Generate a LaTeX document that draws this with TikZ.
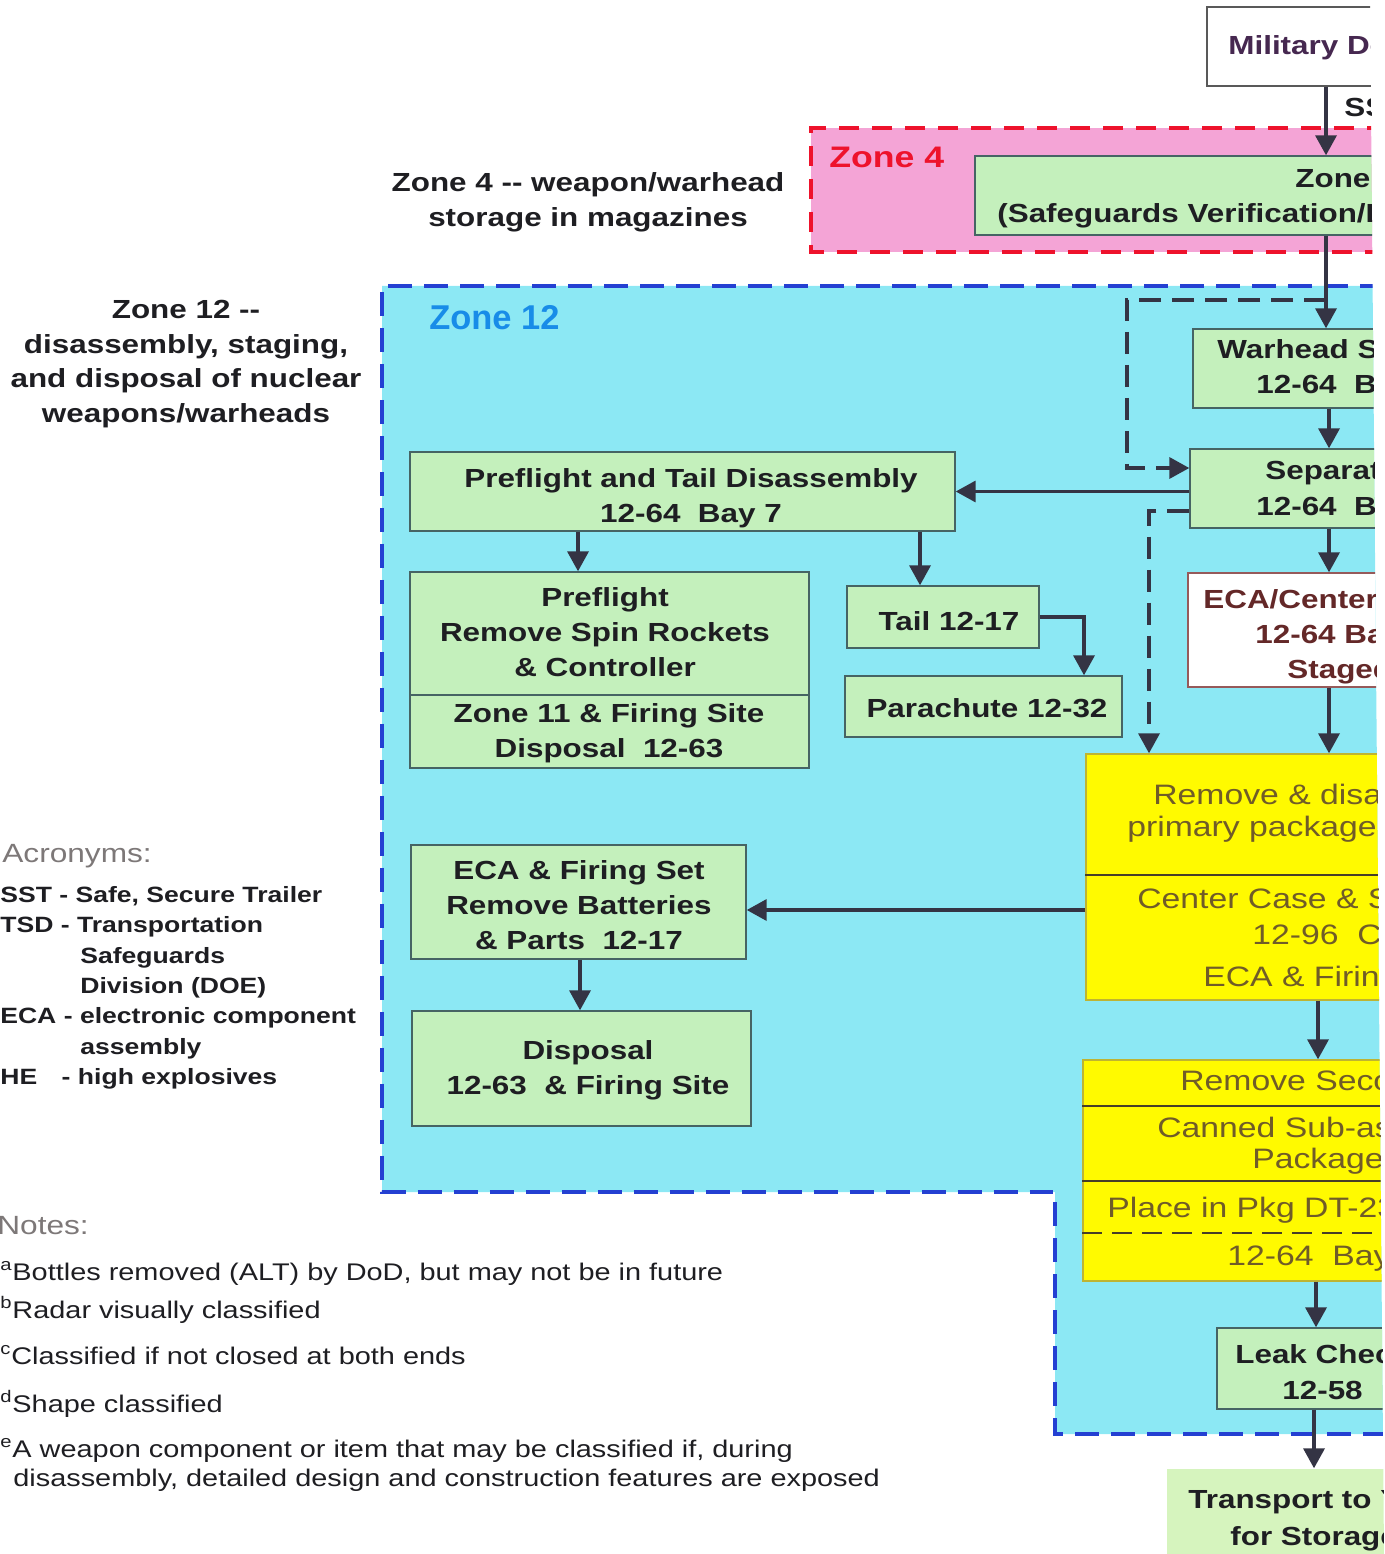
\documentclass[tikz,border=0pt]{standalone}
\usepackage{fontspec}
\setmainfont{Liberation Sans}[FakeStretch=1.2]
\newfontfamily\plainsans{Liberation Sans}
\usetikzlibrary{arrows.meta,calc,fit}

\newlength\pxl \setlength\pxl{0.02cm}
\newcommand\boxfont{\fontsize{14.9}{19.8}\selectfont\bfseries}
\newcommand\ylwfont{\fontsize{16}{20.4}\selectfont}
\newcommand\accfont{\fontsize{12.6}{17.3}\selectfont\bfseries}
\newcommand\notefont{\fontsize{13.7}{16.5}\selectfont}
\newcommand\headfont{\fontsize{15}{18}\selectfont}

\definecolor{zcyan}{RGB}{140,232,244}
\definecolor{zpink}{RGB}{244,164,214}
\definecolor{zred}{RGB}{238,18,44}
\definecolor{zblue}{RGB}{36,64,210}
\definecolor{zlabel}{RGB}{24,140,232}
\definecolor{bgreen}{RGB}{196,240,188}
\definecolor{tgreen}{RGB}{214,244,190}
\definecolor{byellow}{RGB}{255,250,0}
\definecolor{yline}{RGB}{190,180,50}
\definecolor{ysepc}{RGB}{70,62,40}
\definecolor{ybrown}{RGB}{112,92,40}
\definecolor{boxline}{RGB}{70,100,100}
\definecolor{ink}{RGB}{30,30,34}
\definecolor{arrowc}{RGB}{52,52,68}
\definecolor{milc}{RGB}{70,40,80}
\definecolor{ecatxt}{RGB}{100,40,40}
\definecolor{ecaline}{RGB}{150,90,90}
\definecolor{grayhd}{RGB}{125,120,120}

\begin{document}
\begin{tikzpicture}[x=0.02cm, y=-0.02cm,
  box/.style={draw=boxline, line width=0.8pt, inner sep=0pt},
  gbox/.style={box, fill=bgreen},
  ybox/.style={box, draw=yline, fill=byellow},
  wbox/.style={box, fill=white},
  btxt/.style={font=\boxfont, text=ink, align=center, inner sep=0pt},
  ytxt/.style={font=\ylwfont, text=ybrown, anchor=base west, inner sep=0pt},
  note/.style={font=\notefont, text=ink, anchor=base west, inner sep=0pt},
  ysep/.style={draw=ysepc, line width=1.6pt},
  arr/.style={draw=arrowc, line width=2pt, -{Triangle[width=0.42cm,length=0.4cm]}},
  dashln/.style={arr, dash pattern=on 0.44cm off 0.22cm},
  zonelbl/.style={font=\plainsans\fontsize{19.6}{22}\selectfont\bfseries, anchor=base west, inner sep=0pt}]
  %%%%% START %%%%%
  \useasboundingbox (0,0) rectangle (1384,1554);
  \clip (0,0) -- (1370,0) -- (1384,1554) -- (0,1554) -- cycle;

  % zone 4
  \fill[zpink] (811,128) rectangle (1420,252);
  \draw[zred, line width=2.4pt, dash pattern=on 0.4cm off 0.26cm] (1420,128) -- (811,128) -- (811,252) -- (1420,252);
  \node[anchor=base west, inner sep=0pt, font=\fontsize{16.9}{20}\selectfont\bfseries, text=zred] (z4lbl) at (829,168) {Zone 4};

  % zone 12
  \fill[zcyan] (1420,286) -- (382,286) -- (382,1192) -- (1055,1192) -- (1055,1434) -- (1420,1434) -- cycle;
  \draw[zblue, line width=2.2pt, dash pattern=on 0.48cm off 0.24cm] (1420,286) -- (382,286) -- (382,1192) -- (1055,1192) -- (1055,1434) -- (1420,1434);
  \node[zonelbl, text=zlabel] (z12lbl) at (429,330) {Zone 12};

  % boxes, right column
  \node[wbox, draw=gray!70!black, fit={(1207,7) (1420,86)}] (mil) {};
  \node[gbox, fit={(975,156) (1420,235)}] (z4b) {};
  \node[gbox, fit={(1193,329) (1420,408)}] (whs) {};
  \node[gbox, fit={(1190,449) (1420,528)}] (sep) {};
  \node[wbox, draw=ecaline, fit={(1188,573) (1420,687)}] (eca) {};
  \node[ybox, fit={(1086,754) (1420,1000)}] (yl1) {};
  \node[ybox, fit={(1083,1060) (1420,1281)}] (yl2) {};
  \node[gbox, fit={(1217,1328) (1420,1409)}] (leak) {};
  \node[box, draw=none, fill=tgreen, fit={(1167,1469) (1420,1580)}] (trn) {};

  % boxes, left part
  \node[gbox, fit={(410,452) (955,531)}] (ptd) {};
  \node[gbox, fit={(410,572) (809,768)}] (pre) {};
  \node[gbox, fit={(847,586) (1039,648)}] (tail) {};
  \node[gbox, fit={(845,676) (1122,737)}] (para) {};
  \node[gbox, fit={(411,845) (746,959)}] (ecs) {};
  \node[gbox, fit={(412,1011) (751,1126)}] (dsp) {};

  \draw[boxline, line width=0.8pt] (pre.west |- 0,695) -- (pre.east |- 0,695);
  \draw[ysep] (yl1.west |- 0,875) -- (yl1.east |- 0,875);
  \draw[ysep] (yl2.west |- 0,1106) -- (yl2.east |- 0,1106);
  \draw[ysep] (yl2.west |- 0,1181) -- (yl2.east |- 0,1181);
  \draw[ysep, dash pattern=on 0.4cm off 0.2cm] (yl2.west |- 0,1233) -- (yl2.east |- 0,1233);

  % arrows
  \draw[arr] (mil.south -| 1326,0) -- (z4b.north -| 1326,0);
  \draw[arr] (z4b.south -| 1326,0) -- (whs.north -| 1326,0);
  \draw[arr] (whs.south -| 1329,0) -- (sep.north -| 1329,0);
  \draw[arr] (sep.south -| 1329,0) -- (eca.north -| 1329,0);
  \draw[arr] (eca.south -| 1329,0) -- (yl1.north -| 1329,0);
  \draw[arr] (yl1.south -| 1318,0) -- (yl2.north -| 1318,0);
  \draw[arr] (yl2.south -| 1316,0) -- (leak.north -| 1316,0);
  \draw[arr] (leak.south -| 1314,0) -- (trn.north -| 1314,0);
  \draw[arr] (sep.west |- ptd.east) -- (ptd.east);
  \draw[arr] (yl1.west |- 0,910) -- (ecs.east |- 0,910);
  \draw[arr] (ptd.south -| 578,0) -- (pre.north -| 578,0);
  \draw[arr] (ptd.south -| 920,0) -- (tail.north -| 920,0);
  \draw[arr] (tail.east) -| (para.north -| 1084,0);
  \draw[arr] (ecs.south -| 580,0) -- (dsp.north -| 580,0);

  \coordinate (brk) at (1326,300);
  \draw[dashln] (brk) -| (1127,468) -- (sep.west |- 0,468);
  \draw[dashln] (sep.west |- 0,511) -| (yl1.north -| 1149,0);

  % texts, right column
  \node[btxt, anchor=base west, text=milc] (milT) at (1228,55) {Military Do};
  \node[btxt, anchor=base west] (sst) at (1344,117) {SS};
  \node[btxt, anchor=base west] (z4b1) at (1295,188) {Zone};
  \node[btxt, anchor=base west] (z4b2) at (997,223) {(Safeguards Verification/R};
  \node[btxt, anchor=base west] (whs1) at (1217,358) {Warhead S};
  \node[btxt, anchor=base west] (whs2) at (1256,393) {12-64\ \ B};
  \node[btxt, anchor=base west] (sep1) at (1265,479) {Separat};
  \node[btxt, anchor=base west] (sep2) at (1256,515) {12-64\ \ B};
  \node[btxt, anchor=base west, text=ecatxt] (eca1) at (1203,608) {ECA/Center};
  \node[btxt, anchor=base west, text=ecatxt] (eca2) at (1255,643) {12-64 Ba};
  \node[btxt, anchor=base west, text=ecatxt] (eca3) at (1287,678) {Staged};
  \node[ytxt] (yl1a) at (1153,804) {Remove \& disa};
  \node[ytxt] (yl1b) at (1127,836) {primary package};
  \node[ytxt] (yl1c) at (1137,908) {Center Case \& S};
  \node[ytxt] (yl1d) at (1252,944) {12-96\ \ Ce};
  \node[ytxt] (yl1e) at (1203,986) {ECA \& Firing};
  \node[ytxt] (yl2a) at (1180,1090) {Remove Seco};
  \node[ytxt] (yl2b) at (1157,1137) {Canned Sub-as};
  \node[ytxt] (yl2c) at (1252,1168) {Packaged};
  \node[ytxt] (yl2d) at (1107,1217) {Place in Pkg DT-23};
  \node[ytxt] (yl2e) at (1227,1265) {12-64\ \ Bay};
  \node[btxt, anchor=base west] (leak1) at (1235,1363) {Leak Chec};
  \node[btxt, anchor=base west] (leak2) at (1282,1399) {12-58};
  \node[btxt, anchor=base west] (trn1) at (1188,1508) {Transport to Y};
  \node[btxt, anchor=base west] (trn2) at (1230,1545) {for Storage};

  % texts, left part
  \node[btxt] (ptdT) at (691,498) {Preflight and Tail Disassembly\\12-64\ \ Bay 7};
  \node[btxt] (preT) at (605,632) {Preflight\\Remove Spin Rockets\\\& Controller};
  \node[btxt] (preB) at (609,733) {Zone 11 \& Firing Site\\Disposal\ \ 12-63};
  \node[btxt] (tailT) at (949,621) {Tail 12-17};
  \node[btxt] (paraT) at (987,708) {Parachute 12-32};
  \node[btxt] (ecsT) at (579,905) {ECA \& Firing Set\\Remove Batteries\\\& Parts\ \ 12-17};
  \node[btxt] (dspT) at (588,1070) {Disposal\\12-63\ \ \& Firing Site};

  \node[btxt] (z4desc) at (588,202) {Zone 4 -{}- weapon/warhead\\storage in magazines};
  \node[btxt] (z12desc) at (186,364) {Zone 12 -{}-\\disassembly, staging,\\and disposal of nuclear\\weapons/warheads};

  % acronyms and notes
  \node[anchor=base west, inner sep=0pt, font=\headfont, text=grayhd] (acrH) at (2,862) {Acronyms:};
  \node[anchor=north west, align=left, inner sep=0pt, font=\accfont, text=ink] (acrL) at (0,886) {SST - Safe, Secure Trailer\\TSD - Transportation\\\hspace*{80\pxl}Safeguards\\\hspace*{80\pxl}Division (DOE)\\ECA - electronic component\\\hspace*{80\pxl}assembly\\\makebox[54\pxl][l]{HE} - high explosives};

  \node[anchor=base west, inner sep=0pt, font=\headfont, text=grayhd] (notesH) at (-3,1234) {Notes:};
  \node[note] (na) at (0,1280) {\textsuperscript{a}Bottles removed (ALT) by DoD, but may not be in future};
  \node[note] (nb) at (0,1318) {\textsuperscript{b}Radar visually classified};
  \node[note] (nc) at (0,1364) {\textsuperscript{c}Classified if not closed at both ends};
  \node[note] (nd) at (0,1412) {\textsuperscript{d}Shape classified};
  \node[note] (ne1) at (0,1457) {\textsuperscript{e}A weapon component or item that may be classified if, during};
  \node[note] (ne2) at (13,1486) {disassembly, detailed design and construction features are exposed};
  %%%%% END %%%%%
\end{tikzpicture}
\end{document}
